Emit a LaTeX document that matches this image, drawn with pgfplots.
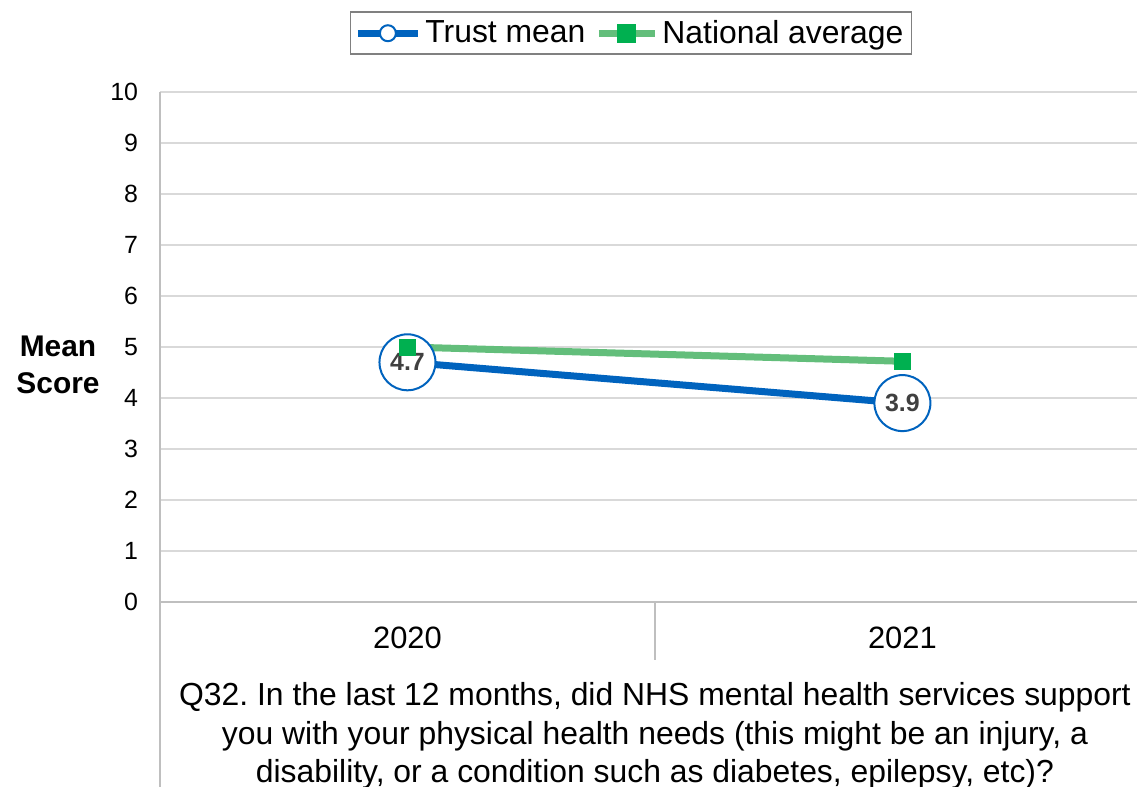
\documentclass[border=0pt]{standalone}
\usepackage{fontspec}
\setmainfont{Liberation Sans}
\usepackage{pgfplots}
\pgfplotsset{compat=1.18}
\definecolor{trustblue}{HTML}{0063BE}
\definecolor{natline}{HTML}{63BE7B}
\definecolor{natmark}{HTML}{00B050}
\definecolor{gridc}{HTML}{D9D9D9}
\definecolor{axc}{HTML}{BFBFBF}
\definecolor{lblc}{HTML}{404040}
\frenchspacing
\begin{document}
\begin{tikzpicture}
\begin{axis}[
 scale only axis, width=488.5bp, height=255bp,
 xmin=-0.5, xmax=1.474, ymin=0, ymax=10,
 xtick={0,1}, xticklabels={2020,2021},
 ytick={0,1,...,10},
 axis x line*=bottom, axis y line*=left,
 axis line style={draw=axc, line width=0.75bp, -},
 ymajorgrids, grid style={draw=gridc, line width=0.75bp},
 major tick length=0pt,
 /pgf/number format/assume math mode=true,
 yticklabel style={font=\fontsize{12.5}{14}\selectfont, xshift=-7.5bp},
 xticklabel style={font=\fontsize{15.5}{17}\selectfont, anchor=center, yshift=-18bp},
 clip=false,
 legend columns=2,
 legend style={at={(0.482,1)}, anchor=south, yshift=18.5bp, draw=gray, line width=0.75bp,
   font=\fontsize{16}{18}\selectfont, inner sep=2bp,
   /tikz/every even column/.append style={column sep=3bp}},
 legend cell align=left,
]
\coordinate (BL) at (rel axis cs:0,0);
\coordinate (TR) at (rel axis cs:1,1);
\addplot[color=trustblue, line width=3.5bp, mark=*, mark size=14bp,
  mark options={fill=white, draw=trustblue, line width=1bp},
  nodes near coords, point meta=explicit symbolic,
  every node near coord/.style={anchor=center, font=\bfseries\fontsize{12.5}{13}\selectfont, text=lblc},
  legend image code/.code={\draw[trustblue, line width=3.5bp] (0bp,0bp) -- (30bp,0bp); \draw[trustblue, line width=1bp, fill=white] (15bp,0bp) circle (4bp);}]
  coordinates {(0,4.7)[4.7] (1,3.9)[3.9]};
\addlegendentry{Trust mean}
\addplot[color=natline, line width=3.5bp, mark=square*, mark size=4bp,
  mark options={fill=natmark, draw=natmark, line width=0.1bp},
  legend image code/.code={\draw[natline, line width=3.5bp] (0bp,0bp) -- (28bp,0bp); \fill[natmark] (11bp,-3bp) rectangle (17bp,3bp);}]
  coordinates {(0,5.0) (1,4.72)};
\addlegendentry{National average}
\draw[axc, line width=0.75bp] (axis cs:0.5,0) -- ([yshift=-29bp]axis cs:0.5,0);
\draw[axc, line width=0.75bp] (rel axis cs:0,0) -- ([yshift=-92.5bp]rel axis cs:0,0);
\node[align=center, font=\bfseries\fontsize{15}{18.5}\selectfont] at (rel axis cs:0,0.465) [xshift=-51bp] {Mean\\Score};
\node[align=center, font=\fontsize{16}{19.25}\selectfont] at (axis cs:0.5,0) [yshift=-67bp]
 {Q32. In the last 12 months, did NHS mental health services support\\you with your physical health needs (this might be an injury, a\\disability, or a condition such as diabetes, epilepsy, etc)?};
\end{axis}
\pgfresetboundingbox
\path ([shift={(-80bp,-92.5bp)}]BL) rectangle ([shift={(0bp,46bp)}]TR);
\end{tikzpicture}
\end{document}
